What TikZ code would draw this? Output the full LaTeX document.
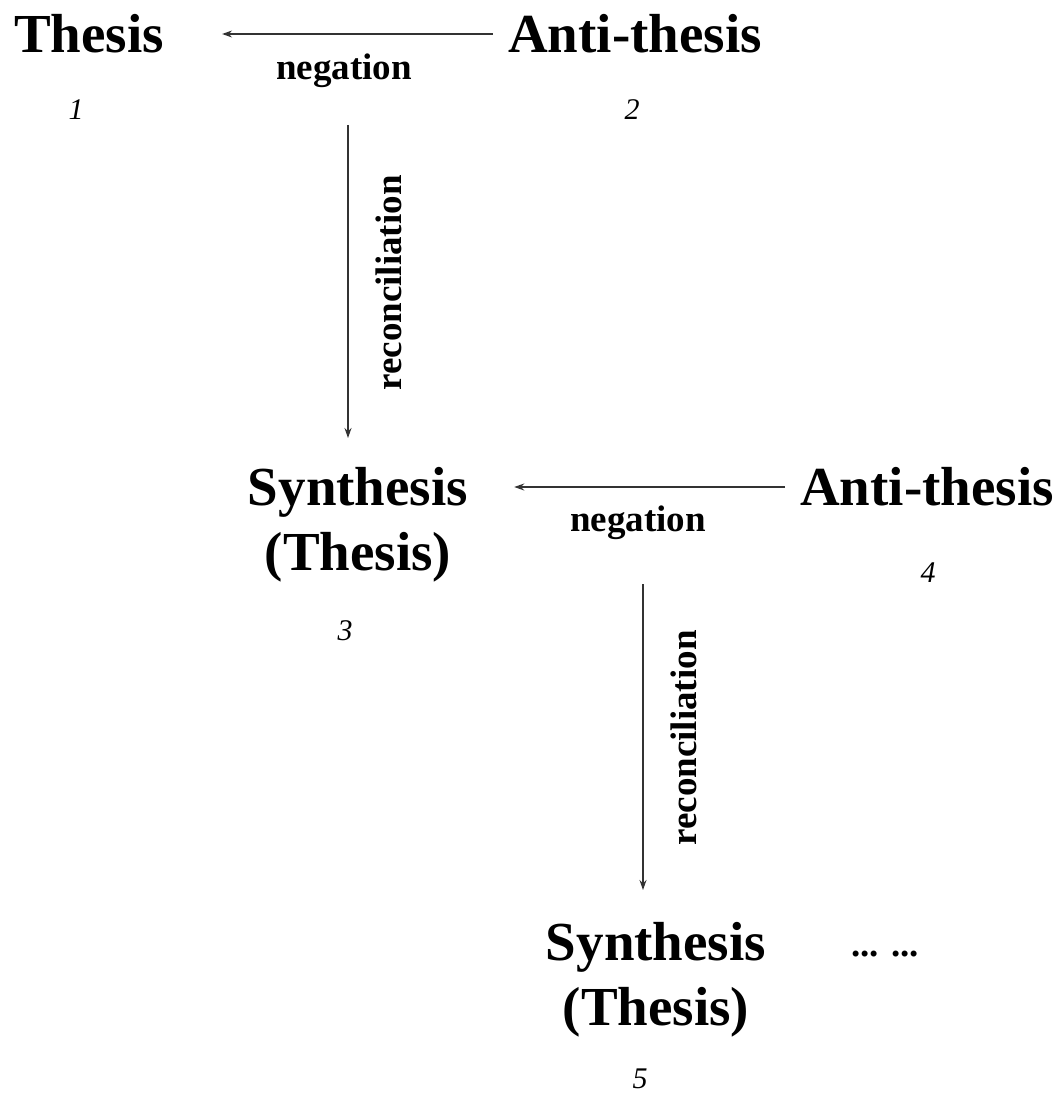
\documentclass[tikz,border=0pt]{standalone}
\usepackage{fontspec}
\setmainfont{Liberation Serif}
\usetikzlibrary{arrows.meta,calc}
\begin{document}
\begin{tikzpicture}[x=1pt,y=-1pt,
  big/.style={font=\fontsize{55}{65}\selectfont\bfseries, inner sep=0pt, align=center},
  lbl/.style={font=\fontsize{37}{44}\selectfont\bfseries, inner sep=0pt},
  num/.style={font=\fontsize{30}{36}\selectfont\itshape, inner sep=0pt},
  arr/.style={draw=black!80, line width=1.3pt, -{Stealth[length=10pt,width=7pt]}}]
\useasboundingbox (0,0) rectangle (1061,1094);
% row 1
\node[big, anchor=base] (th1) at (89,53) {Thesis};
\node[big, anchor=base] (an1) at (635,53) {Anti-thesis};
\node[lbl, anchor=base] (ng1) at (344,80) {negation};
\node[num, anchor=base] (n1) at (76,120) {1};
\node[num, anchor=base] (n2) at (632,120) {2};
\draw[arr] ($(an1.base west)+(-15,-19)$) -- ($(th1.base east)+(58,-19)$);
% row 2 (base anchor = baseline of the last line)
\node[big, anchor=base] (sy1) at (358,570) {Synthesis\\(Thesis)};
\node[big, anchor=base] (an2) at (927,505) {Anti-thesis};
\node[lbl, anchor=base] (ng2) at (638,531) {negation};
\node[num, anchor=base] (n4) at (928,582) {4};
\node[num, anchor=base] (n3) at (345,640) {3};
\coordinate (s1) at ($(ng1.base)+(4,45)$);
\coordinate (t1) at ($(sy1.base)+(0,-132)$);
\draw[arr] (s1) -- (s1 |- t1);
\node[lbl, rotate=90] (rc1) at (389,283) {reconciliation};
\coordinate (t2) at ($(sy1.base east)+(46,-83)$);
\draw[arr] ($(an2.base west)+(-15,-18)$) -- (t2);
% row 3
\node[big, anchor=base] (sy2) at (656,1025) {Synthesis\\(Thesis)};
\node[lbl, anchor=base] (dots) at (885,956) {... ...};
\node[num, anchor=base] (n5) at (640,1088) {5};
\coordinate (s2) at ($(ng2.base)+(5,53)$);
\coordinate (t3) at ($(sy2.base)+(0,-135)$);
\draw[arr] (s2) -- (s2 |- t3);
\node[lbl, rotate=90] (rc2) at (684,738) {reconciliation};
\end{tikzpicture}
\end{document}
